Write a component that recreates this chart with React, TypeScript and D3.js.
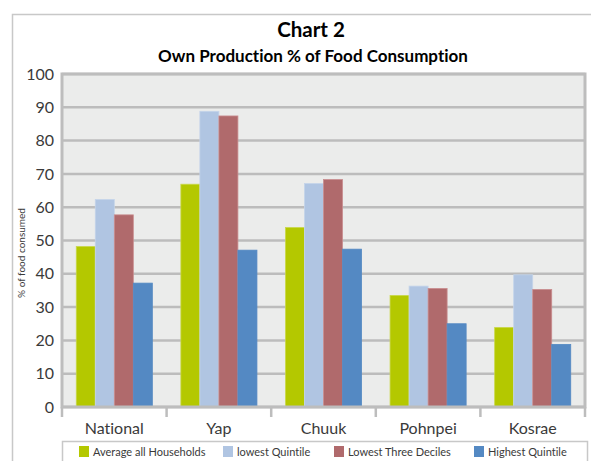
import React from "react";
import * as d3 from "d3";

const categories = ["National", "Yap", "Chuuk", "Pohnpei", "Kosrae"];
const seriesNames = ["Average all Households", "lowest Quintile", "Lowest Three Deciles", "Highest Quintile"];
const avgAll = [48.2, 66.9, 53.9, 33.5, 23.9];
const lowestQuintile = [62.3, 88.8, 67.1, 36.3, 39.7];
const lowestThreeDeciles = [57.7, 87.4, 68.3, 35.6, 35.3];
const highestQuintile = [37.2, 47.1, 47.4, 25.0, 18.8];
const yTicks = [0, 10, 20, 30, 40, 50, 60, 70, 80, 90, 100];
const colors = ["#b4c800", "#b0c5e2", "#b06a6c", "#5489c3"];
const strokes = ["#c9d84a", "#c4d4ea", "#c98d8f", "#5489c3"];

const series = [avgAll, lowestQuintile, lowestThreeDeciles, highestQuintile];

const W = 591, H = 461;
const font = "Lato, 'Open Sans', sans-serif";

export default function App() {
  const plotL = 62, plotR = 585, plotT = 74, plotB = 407;
  const x = d3.scaleBand().domain(categories).range([plotL, plotR]).paddingInner(0).paddingOuter(0);
  const inner = d3.scaleBand().domain(seriesNames).range([0, x.bandwidth()]).paddingInner(0).paddingOuter(0.75);
  const y = d3.scaleLinear().domain([0, 100]).range([plotB, plotT]);

  const legendX = [79, 223, 334, 474];

  return (
    <svg width={W} height={H} style={{ position: "absolute", left: 0, top: 0, background: "#fff", fontVariantLigatures: "none" }} fontFamily={font}>
      {/* outer frame */}
      <path d={`M12.5,${H} L12.5,14.5 L${W},14.5`} fill="none" stroke="#c8c8c8" strokeWidth={1.5} />
      <text x={311} y={37} textAnchor="middle" fontSize={20.5} fontWeight="bold" fill="#000">Chart 2</text>
      <text x={313} y={62} textAnchor="middle" fontSize={17} fontWeight="bold" fill="#000">Own Production % of Food Consumption</text>

      {/* plot background */}
      <rect x={plotL} y={plotT} width={plotR - plotL} height={plotB - plotT} fill="#ebeceb" />
      {yTicks.map((t) => (
        <line key={t} x1={plotL} x2={plotR} y1={y(t)} y2={y(t)} stroke="#bcbcbc" strokeWidth={2.5} />
      ))}

      {/* bars */}
      {categories.map((c, ci) => (
        <g key={c} transform={`translate(${x(c)},0)`}>
          {series.map((s, si) => (
            <rect
              key={si}
              x={inner(seriesNames[si])!}
              y={y(s[ci])}
              width={inner.bandwidth()}
              height={plotB - y(s[ci])}
              fill={colors[si]}
              stroke={strokes[si]}
              strokeWidth={0.8}
            />
          ))}
        </g>
      ))}

      {/* plot border */}
      <rect x={plotL} y={plotT} width={plotR - plotL} height={plotB - plotT} fill="none" stroke="#bdbdbd" strokeWidth={3} />

      {/* category ticks */}
      {[...categories.map((c) => x(c)!), plotR].map((px, i) => (
        <line key={i} x1={px} x2={px} y1={plotB} y2={plotB + 10} stroke="#bdbdbd" strokeWidth={2.5} />
      ))}

      {/* y tick labels */}
      {yTicks.map((t) => (
        <text key={t} x={54} y={y(t)} dy="0.35em" textAnchor="end" fontSize={16} fill="#3a3a3a">{t}</text>
      ))}
      <text transform={`translate(25,253) rotate(-90)`} textAnchor="middle" fontSize={10} fill="#3a3a3a">% of food consumed</text>

      {/* x labels */}
      {categories.map((c) => (
        <text key={c} x={x(c)! + x.bandwidth() / 2} y={428} dy="0.35em" textAnchor="middle" fontSize={16} fill="#3a3a3a">{c}</text>
      ))}

      {/* legend */}
      <rect x={62.5} y={441.5} width={525} height={40} fill="#fff" stroke="#c8c8c8" strokeWidth={1.5} />
      {seriesNames.map((n, i) => (
        <g key={n}>
          <rect x={legendX[i]} y={446} width={10} height={11} fill={colors[i]} />
          <text x={legendX[i] + 14} y={452} dy="0.35em" fontSize={11} fill="#3a3a3a">{n}</text>
        </g>
      ))}
    </svg>
  );
}
